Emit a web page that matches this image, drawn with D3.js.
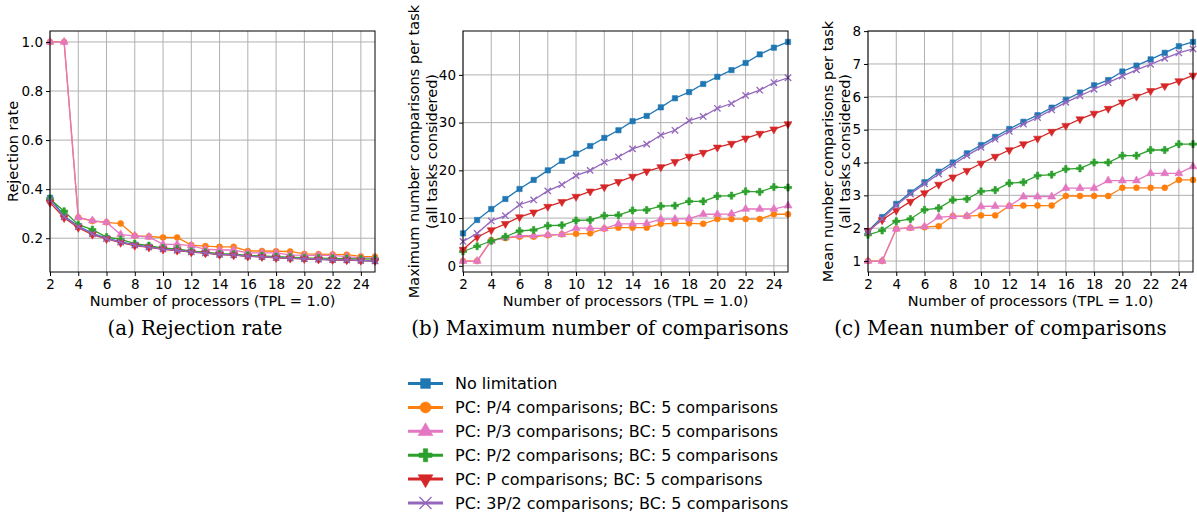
<!DOCTYPE html>
<html><head><meta charset="utf-8">
<script src="https://cdn.jsdelivr.net/npm/d3@7"></script>
<style>
body{margin:0;background:#fff;}
svg{display:block;}
text{font-family:"DejaVu Sans",sans-serif;fill:#000;}
.cap{font-family:"DejaVu Serif",serif;}
</style></head><body>
<svg id="chart" width="1197" height="516"></svg>
<script>
const processors = d3.range(2, 26);
const seriesNames = ["No limitation","PC: P/4 comparisons; BC: 5 comparisons","PC: P/3 comparisons; BC: 5 comparisons","PC: P/2 comparisons; BC: 5 comparisons","PC: P comparisons; BC: 5 comparisons","PC: 3P/2 comparisons; BC: 5 comparisons"];
const seriesColors = ["#1f77b4","#ff7f0e","#e377c2","#2ca02c","#d62728","#9467bd"];
const seriesMarkers = ["square","circle","triangle","plus","triangleDown","x"];

// (a) Rejection rate
const rejNoLimit = [0.365,0.29,0.25,0.22,0.2,0.185,0.173,0.165,0.157,0.152,0.145,0.14,0.134,0.132,0.127,0.125,0.121,0.119,0.116,0.114,0.112,0.111,0.109,0.107];
const rejP4 = [1.0,1.0,0.285,0.27,0.265,0.26,0.21,0.207,0.203,0.203,0.172,0.168,0.165,0.165,0.148,0.148,0.147,0.146,0.136,0.135,0.134,0.133,0.126,0.125];
const rejP3 = [1.0,1.0,0.285,0.272,0.265,0.215,0.21,0.205,0.175,0.175,0.17,0.155,0.152,0.152,0.14,0.14,0.14,0.132,0.13,0.13,0.13,0.125,0.12,0.12];
const rejP2 = [0.36,0.31,0.255,0.235,0.205,0.195,0.178,0.17,0.16,0.157,0.147,0.143,0.137,0.135,0.13,0.128,0.125,0.123,0.12,0.119,0.118,0.117,0.116,0.115];
const rejP = [0.345,0.283,0.243,0.215,0.197,0.182,0.17,0.163,0.155,0.15,0.143,0.139,0.133,0.131,0.126,0.124,0.12,0.118,0.116,0.114,0.112,0.111,0.109,0.108];
const rej3P2 = [0.355,0.287,0.247,0.218,0.198,0.184,0.172,0.164,0.156,0.151,0.144,0.14,0.134,0.132,0.127,0.125,0.121,0.119,0.117,0.115,0.113,0.112,0.11,0.108];

// (b) Maximum number of comparisons
const maxNoLimit = [6.8,9.6,11.9,14.0,16.1,18.0,20.0,22.0,23.5,25.1,26.8,28.4,30.3,31.4,33.2,35.1,36.4,38.1,39.6,41.0,42.5,44.3,45.7,46.9];
const maxP4 = [1.0,1.0,5.4,5.8,6.1,6.1,6.4,6.6,6.7,6.8,7.8,8.0,8.0,8.0,8.8,8.9,8.9,8.8,9.8,9.8,9.8,9.8,10.8,10.8];
const maxP3 = [1.0,1.0,5.2,5.9,6.3,6.3,6.5,6.6,7.9,7.9,7.8,8.8,8.8,8.9,9.8,9.8,9.9,10.8,10.8,10.9,11.9,11.9,11.9,12.6];
const maxP2 = [3.0,4.1,5.2,6.1,7.3,7.5,8.4,8.5,9.5,9.6,10.5,10.6,11.6,11.7,12.5,12.6,13.5,13.5,14.6,14.7,15.6,15.5,16.5,16.4];
const maxP = [3.4,6.0,7.5,8.8,10.2,11.2,12.4,13.4,14.5,15.6,16.5,17.6,18.7,19.8,20.7,21.8,22.9,23.7,24.8,25.6,26.7,27.7,28.6,29.7];
const max3P2 = [5.1,6.8,9.4,10.5,12.8,13.8,15.7,17.0,18.9,20.0,21.7,22.8,24.5,25.5,27.4,28.4,30.4,31.3,33.0,34.0,35.7,36.8,38.4,39.4];

// (c) Mean number of comparisons
const meanNoLimit = [1.91,2.34,2.74,3.09,3.40,3.72,4.0,4.28,4.53,4.78,5.02,5.24,5.44,5.67,5.91,6.13,6.35,6.51,6.77,6.95,7.14,7.34,7.54,7.67];
const meanP4 = [1.0,1.0,1.98,2.01,2.03,2.06,2.37,2.37,2.39,2.39,2.68,2.69,2.69,2.69,2.98,2.98,2.98,2.98,3.23,3.23,3.23,3.23,3.47,3.47];
const meanP3 = [1.0,1.0,1.98,2.01,2.05,2.34,2.36,2.37,2.66,2.67,2.67,2.96,2.96,2.96,3.22,3.22,3.22,3.45,3.45,3.45,3.67,3.67,3.67,3.88];
const meanP2 = [1.80,1.93,2.21,2.28,2.56,2.61,2.86,2.89,3.12,3.16,3.37,3.40,3.60,3.63,3.80,3.82,4.00,4.00,4.21,4.21,4.38,4.38,4.56,4.56];
const meanP = [1.92,2.25,2.54,2.81,3.07,3.33,3.55,3.75,3.97,4.18,4.38,4.56,4.73,4.94,5.12,5.32,5.49,5.64,5.83,6.01,6.18,6.33,6.48,6.65];
const mean3P2 = [1.88,2.29,2.69,3.04,3.35,3.65,3.93,4.21,4.46,4.71,4.95,5.17,5.37,5.60,5.83,6.03,6.23,6.43,6.63,6.82,6.99,7.17,7.34,7.46];

const xTicks = d3.range(2, 25, 2);
const yTicksA = [0.2,0.4,0.6,0.8,1.0];
const yTicksB = [0,10,20,30,40];
const yTicksC = [1,2,3,4,5,6,7,8];

const xLabel = "Number of processors (TPL = 1.0)";
const panels = [
  {left:50, series:[rejNoLimit,rejP4,rejP3,rejP2,rejP,rej3P2], yTicks:yTicksA, fmt:d3.format(".1f"), ylab:["Rejection rate"], ylabX:[13], caption:"(a) Rejection rate"},
  {left:463, series:[maxNoLimit,maxP4,maxP3,maxP2,maxP,max3P2], yTicks:yTicksB, fmt:d3.format("d"), ylab:["Maximum number comparisons per task","(all tasks considered)"], ylabX:[414,432], caption:"(b) Maximum number of comparisons"},
  {left:868, series:[meanNoLimit,meanP4,meanP3,meanP2,meanP,mean3P2], yTicks:yTicksC, fmt:d3.format("d"), ylab:["Mean number comparisons per task","(all tasks considered)"], ylabX:[828,845], caption:"(c) Mean number of comparisons"}
];

const svg = d3.select("#chart");
const W = 325, plotTop = 31, plotBottom = 272;

function markerPath(kind, size){
  const tri = d3.symbol(d3.symbolTriangle, size)();
  switch(kind){
    case "square": return d3.symbol(d3.symbolSquare, size)();
    case "circle": return d3.symbol(d3.symbolCircle, size)();
    case "triangle": return tri;
    case "triangleDown": return tri;
    case "plus": return d3.symbol(d3.symbolCross, size)();
    case "x": return d3.symbol(d3.symbolTimes || d3.symbolX, size)();
  }
}
function drawMarker(g, kind, color, size){
  const p = g.append("path").attr("d", markerPath(kind,size));
  if(kind==="triangleDown") p.attr("transform","rotate(180)");
  if(kind==="x") p.attr("fill","none").attr("stroke",color).attr("stroke-width",1.3);
  else p.attr("fill",color).attr("stroke",color).attr("stroke-width",0.6);
}

panels.forEach((pn,pi)=>{
  const g = svg.append("g");
  const x = d3.scaleLinear().domain([2,25]).range([pn.left, pn.left+W]);
  const all = pn.series.flat();
  const mn = d3.min(all), mx = d3.max(all), m = (mx-mn)*0.05;
  const y = d3.scaleLinear().domain([mn-m, mx+m]).range([plotBottom, plotTop]);
  g.append("g").selectAll("line").data(xTicks).join("line")
    .attr("x1",d=>x(d)).attr("x2",d=>x(d)).attr("y1",plotTop).attr("y2",plotBottom)
    .attr("stroke","#b0b0b0").attr("stroke-width",1);
  g.append("g").selectAll("line").data(pn.yTicks).join("line")
    .attr("x1",pn.left).attr("x2",pn.left+W).attr("y1",d=>y(d)).attr("y2",d=>y(d))
    .attr("stroke","#b0b0b0").attr("stroke-width",1);
  const cid = "clip"+pi;
  svg.append("clipPath").attr("id",cid).append("rect")
    .attr("x",pn.left-4).attr("y",plotTop-4).attr("width",W+8).attr("height",plotBottom-plotTop+8);
  const plot = g.append("g").attr("clip-path",`url(#${cid})`);
  const line = d3.line().x((d,i)=>x(processors[i])).y(d=>y(d));
  pn.series.forEach((s,si)=>{
    const c = seriesColors[si];
    plot.append("path").datum(s).attr("d",line).attr("fill","none").attr("stroke",c).attr("stroke-width",1.3);
    s.forEach((v,i)=>{
      const mg = plot.append("g").attr("transform",`translate(${x(processors[i])},${y(v)})`);
      drawMarker(mg, seriesMarkers[si], c, 28);
    });
  });
  const xa = g.append("g").attr("transform",`translate(0,${plotBottom})`)
    .call(d3.axisBottom(x).tickValues(xTicks).tickSize(4).tickPadding(3).tickFormat(d3.format("d")));
  const ya = g.append("g").attr("transform",`translate(${pn.left},0)`)
    .call(d3.axisLeft(y).tickValues(pn.yTicks).tickSize(4).tickPadding(3).tickFormat(pn.fmt));
  [xa,ya].forEach(a=>{
    a.select(".domain").remove();
    a.selectAll("text").attr("font-size",13.5).attr("font-family","DejaVu Sans").attr("fill","#000");
    a.selectAll("line").attr("stroke","#000").attr("stroke-width",1);
  });
  g.append("rect").attr("x",pn.left).attr("y",plotTop).attr("width",W).attr("height",plotBottom-plotTop)
    .attr("fill","none").attr("stroke","#000").attr("stroke-width",1);
  g.append("text").attr("x",pn.left+W/2).attr("y",306).attr("text-anchor","middle")
    .attr("font-size",14.5).text(xLabel);
  pn.ylab.forEach((t,k)=>{
    g.append("text").attr("transform",`translate(${pn.ylabX[k]},${(plotTop+plotBottom)/2}) rotate(-90)`)
      .attr("text-anchor","middle").attr("dominant-baseline","central").attr("font-size",14.5).text(t);
  });
  const capX = [195, 600, 1000.5][pi];
  g.append("text").attr("class","cap").attr("x",capX).attr("y",335).attr("text-anchor","middle")
    .attr("font-size",19.8).text(pn.caption);
});

const lg = svg.append("g");
seriesNames.forEach((nm,i)=>{
  const yy = 383.5 + i*23.9;
  const c = seriesColors[i];
  lg.append("line").attr("x1",408).attr("x2",443).attr("y1",yy).attr("y2",yy).attr("stroke",c).attr("stroke-width",3);
  const mg = lg.append("g").attr("transform",`translate(425.5,${yy})`);
  drawMarker(mg, seriesMarkers[i], c, 95);
  lg.append("text").attr("x",455).attr("y",yy).attr("dominant-baseline","central").attr("font-size",16).text(nm);
});
</script></body></html>
